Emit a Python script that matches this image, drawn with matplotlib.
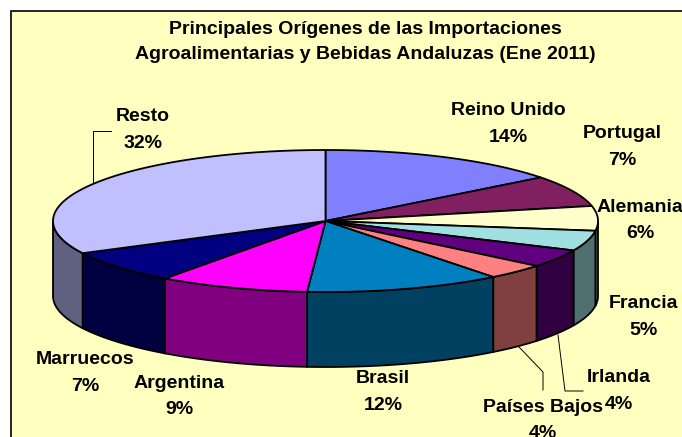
import numpy as np
import matplotlib
matplotlib.use("Agg")
import matplotlib.pyplot as plt
from matplotlib.patches import Polygon, Rectangle

categories = ["Reino Unido", "Portugal", "Alemania", "Francia", "Irlanda",
              "Países Bajos", "Brasil", "Argentina", "Marruecos", "Resto"]
values = [14.49, 7.11, 5.6, 4.6, 4.1, 3.55, 11.63, 8.94, 7.49, 32.49]
top_colors = ["#8080FF", "#802060", "#FFFFCC", "#A0E0E0", "#600080",
              "#FF8080", "#0080C0", "#FF00FF", "#000080", "#C0C0FF"]
side_colors = ["#404080", "#401030", "#808066", "#507070", "#300040",
               "#804040", "#004060", "#800080", "#000040", "#606080"]
title = "Principales Orígenes de las Importaciones\nAgroalimentarias y Bebidas Andaluzas (Ene 2011)"

# layout (pixels)
label_x = [508, 622, 640, 644, 619, 543, 383, 179, 85, 143]
label_y = [124, 147, 220.5, 317, 391, 420.5, 392, 396.5, 373, 130]
CX, CY, A, B, DEPTH = 325.5, 221, 272.5, 71, 75
BG = "#FFFFC0"

fig = plt.figure(figsize=(6.82, 4.37), dpi=100, facecolor="white")
ax = fig.add_axes([0, 0, 1, 1])
ax.set_xlim(0, 682)
ax.set_ylim(437, 0)
ax.axis("off")
ax.add_patch(Rectangle((10.5, 10.5), 700, 460, fc=BG, ec="black", lw=1.2, zorder=0))


def rim(t0, t1, n=80):
    t = np.linspace(t0, t1, n)
    return CX + A * np.sin(t), CY - B * np.cos(t)


edges = np.concatenate([[0], np.cumsum(values)]) / np.sum(values) * 2 * np.pi
lw = 1.3

# sides: visible front half only (theta between pi/2 and 3pi/2)
for i in range(len(values)):
    t0, t1 = max(edges[i], np.pi / 2), min(edges[i + 1], 1.5 * np.pi)
    if t1 <= t0:
        continue
    x, y = rim(t0, t1)
    xs = np.concatenate([x, x[::-1]])
    ys = np.concatenate([y, y[::-1] + DEPTH])
    ax.add_patch(Polygon(np.c_[xs, ys], closed=True, fc=side_colors[i], ec="black", lw=lw, zorder=2))

# top faces
for i in range(len(values)):
    x, y = rim(edges[i], edges[i + 1])
    ax.add_patch(Polygon(np.c_[np.r_[CX, x], np.r_[CY, y]], closed=True,
                         fc=top_colors[i], ec="black", lw=lw, zorder=3))

# leader lines
leaders = [([93, 93, 111], [183, 131, 131]),
           ([519, 543, 543], [347, 372, 390]),
           ([558, 565, 583], [335, 391, 391])]
for lx, ly in leaders:
    ax.plot(lx, ly, color="black", lw=0.7, zorder=1.5 if lx[0] != 93 else 4)

# labels
font = dict(family="Liberation Sans", weight="bold", color="black")
for name, v, lxp, lyp in zip(categories, values, label_x, label_y):
    ax.text(lxp, lyp, f"{name}\n{v:.0f}%", ha="center", va="center", fontsize=14,
            linespacing=1.72, zorder=5, **font)

ax.text(365, 42, title, ha="center", va="center", fontsize=14, linespacing=1.62, zorder=5, **font)

fig.savefig("out.png", dpi=100)
